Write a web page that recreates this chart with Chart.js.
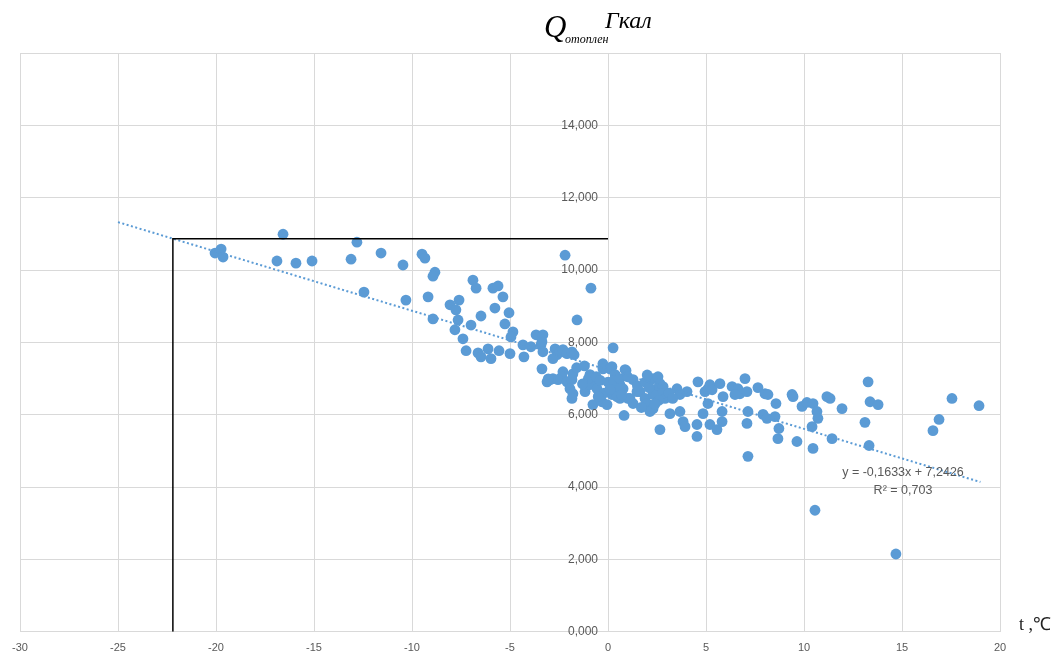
<!DOCTYPE html>
<html><head><meta charset="utf-8">
<script src="https://cdn.jsdelivr.net/npm/chart.js@4"></script>
<style>html,body{margin:0;padding:0;background:#fff}#wrap{width:1063px;height:660px}</style>
</head><body><div id="wrap"><canvas id="c" width="1063" height="660"></canvas></div>
<script>
// Outdoor temperature, °C
const temps = [-20.05,-19.74,-19.64,-16.58,-16.89,-15.92,-15.10,-12.81,-13.11,-11.58,-12.45,-10.46,-10.31,-9.49,-9.34,-8.83,-8.93,-9.18,-8.93,-8.06,-7.76,-7.60,-7.65,-7.81,-7.40,-7.24,-6.99,-6.89,-6.73,-6.48,-6.63,-6.48,-6.12,-5.97,-5.87,-5.61,-5.77,-5.56,-5.36,-5.26,-5.05,-5.00,-4.85,-4.95,-4.34,-4.29,-3.93,-3.67,-3.32,-3.42,-3.32,-3.37,-3.11,-2.70,-2.60,-2.81,-2.45,-2.30,-2.09,-1.84,-1.73,-2.30,-2.35,-2.81,-2.55,-2.09,-1.79,-1.84,-1.94,-1.79,-1.84,-2.19,-0.87,-1.58,0.26,-1.17,-0.92,-0.77,-0.92,-0.56,-0.77,-0.31,-0.05,-0.26,-0.26,0.10,0.61,0.77,0.46,0.82,0.92,1.28,1.48,0.61,1.12,1.28,0.20,0.36,0.26,0.51,0.87,0.20,0.46,1.02,1.63,1.89,1.99,2.30,2.14,2.30,2.55,2.65,2.50,2.81,2.76,2.91,2.30,3.16,2.65,3.52,3.67,4.03,3.67,3.83,3.93,4.54,4.59,4.54,4.95,5.10,4.85,5.20,5.31,5.71,5.10,5.82,5.82,5.20,5.56,5.87,6.33,6.63,6.73,6.48,7.09,6.99,7.14,7.09,7.14,7.65,8.01,8.16,7.91,8.11,8.52,8.57,8.72,8.67,9.39,9.44,9.64,9.90,10.15,10.46,10.66,10.71,10.41,10.46,11.17,11.33,11.43,10.56,11.94,13.27,13.37,13.78,13.11,13.32,14.69,16.58,16.89,17.55,18.93,-3.37,-1.00,-0.60,-0.40,0.00,0.30,0.60,1.00,-0.20,0.10,0.70,1.50,1.90,2.10,-1.30,-0.50,2.00,1.70,2.60,3.10,3.30,2.40,-1.60,-1.20,-2.95,-3.05];
// Heating heat consumption, thousand Gcal
const heat = [10.47,10.58,10.36,10.99,10.25,10.19,10.25,10.77,10.30,10.47,9.39,10.14,9.17,10.44,10.33,9.94,9.83,9.26,8.65,9.04,8.90,9.17,8.62,8.35,8.10,7.77,8.48,9.72,9.50,8.73,7.71,7.60,7.82,7.55,9.50,9.56,8.95,7.77,9.26,8.51,8.82,7.69,8.29,8.15,7.93,7.60,7.88,8.21,8.21,7.93,7.74,7.27,6.91,7.82,7.66,7.55,7.74,7.80,7.69,7.74,7.66,7.19,7.05,7.00,6.97,6.91,7.13,6.97,6.72,6.58,6.45,10.41,9.50,8.62,7.85,6.64,7.11,6.91,6.83,6.72,6.28,6.36,6.28,7.41,7.27,7.27,6.83,6.72,6.64,5.98,7.22,6.97,6.64,6.45,6.45,6.31,7.33,7.11,6.83,6.78,7.25,6.56,6.50,6.45,6.64,6.45,6.31,6.17,6.09,7.00,7.05,6.86,6.72,6.78,6.58,6.45,6.56,6.03,5.59,6.72,6.56,6.64,6.09,5.81,5.67,5.73,6.91,5.40,6.64,6.72,6.03,6.83,6.69,6.86,6.31,6.09,5.81,5.73,5.59,6.50,6.78,6.72,6.58,6.56,6.64,7.00,6.09,5.76,4.85,6.75,6.58,6.56,6.01,5.90,5.95,6.31,5.62,5.34,6.56,6.50,5.26,6.23,6.34,6.31,6.09,5.90,5.67,5.07,6.50,6.45,5.34,3.36,6.17,6.91,6.36,6.28,5.79,5.15,2.15,5.56,5.87,6.45,6.25,8.02,7.00,7.05,6.95,6.90,6.95,7.00,7.05,6.60,6.70,6.55,6.80,6.90,6.75,6.85,6.50,7.10,6.20,6.40,6.60,6.45,6.30,7.30,7.35,6.97,6.99];
// Linear trend (from the chart's equation)
const trendSlope = [-0.1633];
const trendIntercept = [7.2426];
const trendRange = [-25, 19];
const trendR2 = ['0,703'];
// Design outdoor temperature marker
const designTemp = [-22.2];
// Axis ticks
const xTicks = [-30,-25,-20,-15,-10,-5,0,5,10,15,20];
const yTicks = [0,2,4,6,8,10,12,14,16];
const yTickLabels = ['0,000','2,000','4,000','6,000','8,000','10,000','12,000','14,000',''];

const blue = '#5b9bd5';
const pts = temps.map((t,i)=>({x:t,y:heat[i]}));
const trendFn = x => trendSlope[0]*x + trendIntercept[0];
const trendPts = trendRange.map(x=>({x:x,y:trendFn(x)}));
const dT = designTemp[0];
const dQ = trendFn(dT);
const markPts = [{x:dT,y:0},{x:dT,y:dQ},{x:0,y:dQ}];

function fmt4(v){return v.toFixed(4).replace('.',',');}

const overlay = {
  id:'overlay',
  afterDraw(chart){
    const ctx = chart.ctx;
    const xs = chart.scales.x, ys = chart.scales.y;
    ctx.save();
    // title
    ctx.fillStyle = '#000';
    ctx.textBaseline = 'alphabetic';
    ctx.font = 'italic 31px "Liberation Serif"';
    ctx.fillText('Q', 544, 37);
    ctx.font = 'italic 12px "Liberation Serif"';
    ctx.fillText('отоплен', 565, 43);
    ctx.font = 'italic 24px "Liberation Serif"';
    ctx.fillText('Гкал', 605, 28);
    // x axis title
    ctx.font = '18px "Liberation Serif"';
    ctx.fillStyle = '#222';
    ctx.fillText('t ,℃', 1019, 630);
    // y tick labels next to the axis crossing at t = 0
    ctx.font = '12px "Liberation Sans"';
    ctx.fillStyle = '#595959';
    ctx.textAlign = 'right';
    ctx.textBaseline = 'middle';
    const x0 = xs.getPixelForValue(0);
    yTicks.forEach((v,i)=>{ if(yTickLabels[i]) ctx.fillText(yTickLabels[i], x0-10, ys.getPixelForValue(v)); });
    // trend label
    ctx.textAlign = 'center';
    ctx.textBaseline = 'alphabetic';
    ctx.font = '12.5px "Liberation Sans"';
    const lx = xs.getPixelForValue(15.05), ly = ys.getPixelForValue(4.32);
    ctx.fillText('y = ' + fmt4(trendSlope[0]) + 'x + ' + fmt4(trendIntercept[0]), lx, ly);
    ctx.fillText('R² = ' + trendR2[0], lx, ly+18);
    ctx.restore();
  }
};

new Chart(document.getElementById('c'), {
  type:'scatter',
  data:{datasets:[
    {data:pts, backgroundColor:blue, borderWidth:0, pointRadius:5.4, pointHoverRadius:5.4, order:2},
    {type:'line', data:trendPts, borderColor:blue, borderWidth:2, borderDash:[2,2.5], pointRadius:0, fill:false, order:1},
    {type:'line', data:markPts, borderColor:'#000', borderWidth:1.5, pointRadius:0, fill:false, order:0}
  ]},
  options:{
    responsive:false, animation:false,
    layout:{padding:{left:20, right:63, top:53, bottom:-5}},
    plugins:{legend:{display:false}, tooltip:{enabled:false}},
    scales:{
      x:{type:'linear', min:-30, max:20,
        afterBuildTicks(s){s.ticks = xTicks.map(v=>({value:v}));},
        grid:{color:'#d9d9d9', lineWidth:1, drawTicks:false},
        border:{color:'#d9d9d9'},
        ticks:{color:'#595959', font:{family:'"Liberation Sans Narrow","Liberation Sans"', size:11}, padding:10, maxRotation:0}
      },
      y:{type:'linear', min:0, max:16, position:{x:0},
        afterBuildTicks(s){s.ticks = yTicks.map(v=>({value:v}));},
        grid:{color:'#d9d9d9', lineWidth:1, drawTicks:false},
        border:{color:'#d9d9d9'},
        ticks:{display:false}
      }
    }
  },
  plugins:[overlay]
});
</script></body></html>
